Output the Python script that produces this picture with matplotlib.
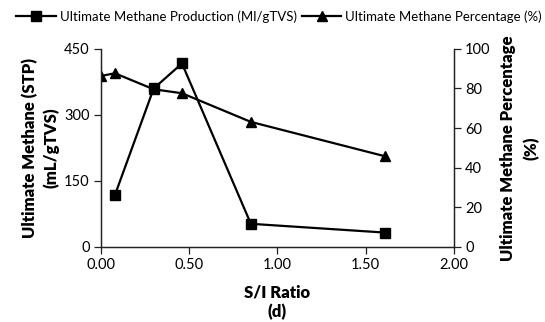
import matplotlib.pyplot as plt

plt.rcParams['font.family'] = ['Lato', 'DejaVu Sans']

# S/I ratio for each run
si_ratio_prod = [0.08, 0.30, 0.46, 0.85, 1.61]
si_ratio_pct = [0.00, 0.08, 0.30, 0.46, 0.85, 1.61]

# ultimate methane yield (mL/gTVS) and methane content (%)
methane_prod = [117, 360, 417, 52, 32]
methane_pct = [86.3, 87.7, 79.6, 77.6, 63.1, 45.7]

x_ticks = [0.0, 0.5, 1.0, 1.5, 2.0]
left_ticks = [0, 150, 300, 450]
right_ticks = [0, 20, 40, 60, 80, 100]

fig = plt.figure(figsize=(5.45, 3.22), dpi=100)
ax = fig.add_axes([0.1848, 0.234, 0.6482, 0.614])
ax2 = ax.twinx()

l1, = ax.plot(si_ratio_prod, methane_prod, color='black', lw=1.6,
              marker='s', ms=6.8, label='Ultimate Methane Production (Ml/gTVS)')
l2, = ax2.plot(si_ratio_pct, methane_pct, color='black', lw=1.6,
               marker='^', ms=7, label='Ultimate Methane Percentage (%)')

ax.set_xlim(0, 2)
ax.set_ylim(0, 450)
ax2.set_ylim(0, 100)
ax.set_xticks(x_ticks)
ax.set_xticklabels(['%.2f' % t for t in x_ticks])
ax.set_yticks(left_ticks)
ax2.set_yticks(right_ticks)

for a in (ax, ax2):
    a.spines['top'].set_visible(False)
    for s in a.spines.values():
        s.set_linewidth(0.9)
        s.set_color('#222222')
    a.tick_params(direction='out', length=5, width=0.9, color='#222222',
                  labelsize=10.5, pad=3)

label_kw = dict(fontsize=12, fontweight='heavy')
ax.set_xlabel('S/I Ratio\n(d)', labelpad=9, linespacing=1.25, **label_kw)
ax.set_ylabel('Ultimate Methane (STP)\n(mL/gTVS)', labelpad=3,
              linespacing=1.35, **label_kw)
ax2.set_ylabel('Ultimate Methane Percentage\n(%)', labelpad=7,
               linespacing=1.5, **label_kw)

fig.legend(handles=[l1, l2], loc='center', bbox_to_anchor=(0.512, 0.949),
           ncol=2, frameon=False, fontsize=9.5, handlelength=3.0,
           handletextpad=0.3, columnspacing=0.4)

fig.savefig('out.png', dpi=100)
